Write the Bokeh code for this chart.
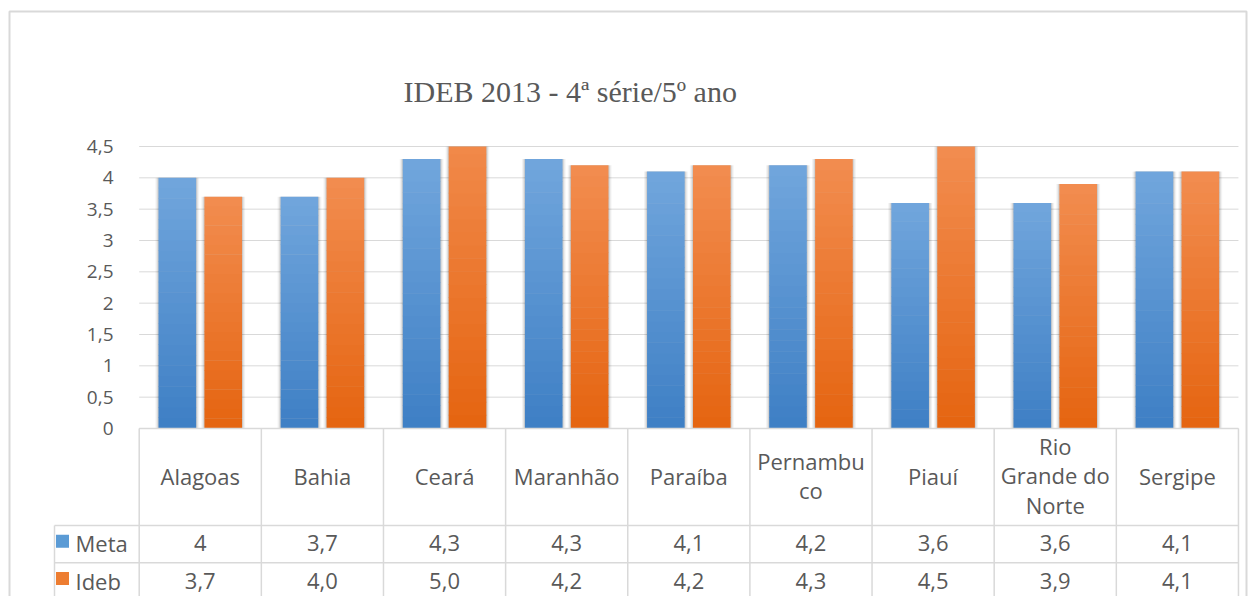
from bokeh.plotting import figure
from bokeh.models import Range1d, ColumnDataSource
from bokeh.embed import file_html
from bokeh.resources import INLINE
from bokeh.core.properties import value

# ---------------- data ----------------
categories = ["Alagoas", "Bahia", "Ceará", "Maranhão", "Paraíba",
              "Pernambuco", "Piauí", "Rio Grande do Norte", "Sergipe"]
category_labels = ["Alagoas", "Bahia", "Ceará", "Maranhão", "Paraíba",
                   "Pernambu\nco", "Piauí", "Rio\nGrande do\nNorte", "Sergipe"]
meta = [4.0, 3.7, 4.3, 4.3, 4.1, 4.2, 3.6, 3.6, 4.1]
ideb = [3.7, 4.0, 5.0, 4.2, 4.2, 4.3, 4.5, 3.9, 4.1]
series_names = ["Meta", "Ideb"]
y_ticks = [0, 0.5, 1, 1.5, 2, 2.5, 3, 3.5, 4, 4.5]
title_text = "IDEB  2013 - 4ª série/5º ano"

# ---------------- layout (pixels on the page) ----------------
W, H = 1248, 596
X0_PX, COL_PX = 138.7, 122.14      # left edge of first category, category width
Y0_PX, UNIT_PX = 428.0, 62.667     # pixel row of value 0, pixels per unit


def X(px):
    return (px - X0_PX) / COL_PX


def Y(py):
    return (Y0_PX - py) / UNIT_PX


TXT = "#595959"
LINE = "#d9d9d9"
FONT = "Open Sans"
blue_top, blue_bot = (113, 166, 220), (62, 127, 197)
orange_top, orange_bot = (242, 141, 80), (229, 100, 16)
legend_colors = ["#5b9bd5", "#ed7d31"]
BAR_W = 0.308
OFFS = [-0.188, 0.188]
N_BANDS = 24
y_max = y_ticks[-1]
n = len(categories)


def hexc(c):
    return "#%02x%02x%02x" % tuple(int(round(v)) for v in c)


def lerp(a, b, t):
    return tuple(a[i] + (b[i] - a[i]) * t for i in range(3))


p = figure(width=W, height=H, output_backend="svg", toolbar_location=None,
           x_range=Range1d(X(0), X(W)), y_range=Range1d(Y(H), Y(0)),
           x_axis_type=None, y_axis_type=None,
           min_border_left=0, min_border_right=0, min_border_top=0, min_border_bottom=0)
p.outline_line_color = None
p.grid.visible = False
p.background_fill_color = "white"
p.border_fill_color = "white"

# chart border
p.line(x=[X(9), X(9), X(1246), X(1246)], y=[Y(H + 5), Y(11), Y(11), Y(H + 5)],
       line_color="#d9d9d9", line_width=2)

# title
p.text(x=[X(573.5)], y=[Y(91)], text=[title_text], text_align="center",
       text_baseline="alphabetic", text_font=value("Liberation Serif"),
       text_font_size="30px", text_color=TXT)

# value gridlines and tick labels
p.segment(x0=[0] * len(y_ticks), x1=[n] * len(y_ticks), y0=y_ticks, y1=y_ticks,
          line_color=LINE, line_width=1)
p.text(x=[X(113)] * len(y_ticks), y=y_ticks,
       text=[("%g" % t).replace(".", ",") for t in y_ticks],
       text_align="right", text_baseline="middle", text_font=value(FONT),
       text_font_size="19px", text_color=TXT)

# bars: soft shadow + vertical gradient, cut at the axis maximum
for s, (vals, top_c, bot_c) in enumerate([(meta, blue_top, blue_bot),
                                           (ideb, orange_top, orange_bot)]):
    xs = [i + 0.5 + OFFS[s] for i in range(n)]
    tops = [min(v, y_max) for v in vals]
    for extra, alpha in [(0.05, 0.05), (0.03, 0.07), (0.014, 0.09)]:
        p.vbar(x=xs, top=tops, bottom=0, width=BAR_W + extra,
               fill_color="black", fill_alpha=alpha, line_color=None)
    bx, bb, bt, bc = [], [], [], []
    for i, v in enumerate(vals):
        for k in range(N_BANDS):
            lo = v * k / N_BANDS
            hi = min(v * (k + 1) / N_BANDS + v * 0.002, y_max, v)
            if lo >= y_max:
                continue
            bx.append(xs[i])
            bb.append(lo)
            bt.append(hi)
            bc.append(hexc(lerp(bot_c, top_c, (k + 0.5) / N_BANDS)))
    src = ColumnDataSource(dict(x=bx, bottom=bb, top=bt, color=bc))
    p.vbar(x="x", bottom="bottom", top="top", width=BAR_W, fill_color="color",
           line_color=None, source=src)

# data table lines
LEFT = X(54)
p.segment(x0=list(range(n + 1)), x1=list(range(n + 1)), y0=[0] * (n + 1),
          y1=[Y(H + 5)] * (n + 1), line_color=LINE, line_width=1.5)
p.segment(x0=[0, LEFT, LEFT], x1=[n, n, n], y0=[0, Y(525), Y(562.3)],
          y1=[0, Y(525), Y(562.3)], line_color=LINE, line_width=1.5)
p.segment(x0=[LEFT], x1=[LEFT], y0=[Y(525)], y1=[Y(H + 5)],
          line_color=LINE, line_width=1.5)

# category row
p.text(x=[i + 0.5 for i in range(n)], y=[Y(475)] * n, text=category_labels,
       text_align="center", text_baseline="middle", text_font=value(FONT),
       text_font_size="22px", text_color=TXT, text_line_height=0.98)

# value rows
meta_lbl = [("%g" % v).replace(".", ",") for v in meta]
ideb_lbl = [("%.1f" % v).replace(".", ",") for v in ideb]
row_y = [Y(542.8), Y(580)]
for r, (lbls, name, col) in enumerate([(meta_lbl, series_names[0], legend_colors[0]),
                                       (ideb_lbl, series_names[1], legend_colors[1])]):
    p.scatter(x=[X(62)], y=[row_y[r] + 2 / UNIT_PX], marker="square", size=13,
              fill_color=col, line_color=None)
    p.text(x=[X(75)], y=[row_y[r]], text=[name], text_align="left",
           text_baseline="middle", text_font=value(FONT), text_font_size="22px",
           text_color=TXT)
    p.text(x=[i + 0.5 for i in range(n)], y=[row_y[r]] * n, text=lbls,
           text_align="center", text_baseline="middle", text_font=value(FONT),
           text_font_size="22px", text_color=TXT)

open("out.html", "w").write(file_html(p, INLINE))
